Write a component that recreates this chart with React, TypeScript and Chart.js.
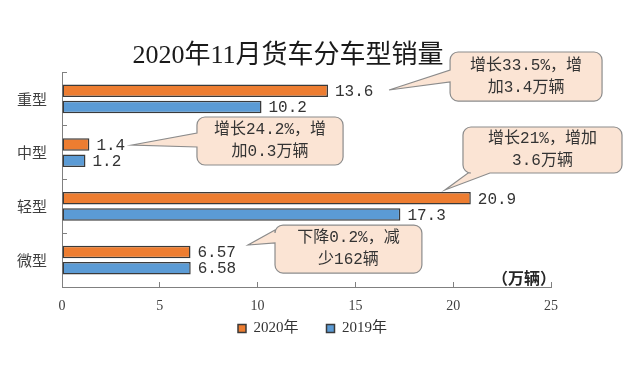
import React, { useEffect, useRef } from 'react';
import { Chart, registerables } from 'chart.js';

Chart.register(...registerables);

// ---- data ----
const CATEGORIES = ['重型', '中型', '轻型', '微型'];
const SALES_2020 = [13.6, 1.4, 20.9, 6.57];
const SALES_2019 = [10.2, 1.2, 17.3, 6.58];
const SERIES_NAMES = ['2020年', '2019年'];
const X_MIN = 0;
const X_MAX = 25;
const X_STEP = 5;
const TITLE = '2020年11月货车分车型销量';
const UNIT = '（万辆）';
const NOTE_TEXTS = [
  ['增长33.5%，增', '加3.4万辆'],
  ['增长24.2%，增', '加0.3万辆'],
  ['增长21%，增加', '3.6万辆'],
  ['下降0.2%，减', '少162辆'],
];

// ---- layout of callouts (x in axis units, p in category-index units) ----
const NOTE_LAYOUT = [
  { x0: 19.84, x1: 27.61, p0: -0.872, p1: 0.04, edge: 'left', b0: -0.537, b1: -0.314, tipX: 16.72, tipP: -0.165 },
  { x0: 6.9, x1: 14.37, p0: 0.337, p1: 1.23, edge: 'left', b0: 0.635, b1: 0.895, tipX: 3.58, tipP: 0.858 },
  { x0: 20.5, x1: 28.63, p0: 0.523, p1: 1.379, edge: 'bottom', b0: 20.76, b1: 21.88, tipX: 19.58, tipP: 1.695 },
  { x0: 10.89, x1: 18.4, p0: 2.347, p1: 3.24, edge: 'left', b0: 2.44, b1: 2.681, tipX: 9.51, tipP: 2.719 },
];

const ORANGE = '#ED7D31';
const BLUE = '#5B9BD5';
const BAR_BORDER = '#3a3a3a';
const AXIS_COLOR = '#808080';
const TEXT_COLOR = '#333333';
const SERIF = '"Liberation Serif", "Noto Sans CJK SC", serif';
const MONO = '"Liberation Mono", "Noto Sans CJK SC", monospace';
const CJK = '"Noto Sans CJK SC", sans-serif';

function drawCallout(ctx: CanvasRenderingContext2D, xs: any, ys: any, g: any, lines: string[]) {
  const L = xs.getPixelForValue(g.x0);
  const R = xs.getPixelForValue(g.x1);
  const T = ys.getPixelForValue(g.p0);
  const B = ys.getPixelForValue(g.p1);
  const tx = xs.getPixelForValue(g.tipX);
  const ty = ys.getPixelForValue(g.tipP);
  const r = 8;
  ctx.beginPath();
  ctx.moveTo(L + r, T);
  ctx.lineTo(R - r, T);
  ctx.arcTo(R, T, R, T + r, r);
  ctx.lineTo(R, B - r);
  ctx.arcTo(R, B, R - r, B, r);
  if (g.edge === 'bottom') {
    const b0 = xs.getPixelForValue(g.b0);
    const b1 = xs.getPixelForValue(g.b1);
    ctx.lineTo(b1, B);
    ctx.lineTo(tx, ty);
    ctx.lineTo(b0, B);
  }
  ctx.lineTo(L + r, B);
  ctx.arcTo(L, B, L, B - r, r);
  if (g.edge === 'left') {
    const b0 = ys.getPixelForValue(g.b0);
    const b1 = ys.getPixelForValue(g.b1);
    ctx.lineTo(L, b1);
    ctx.lineTo(tx, ty);
    ctx.lineTo(L, b0);
  }
  ctx.lineTo(L, T + r);
  ctx.arcTo(L, T, L + r, T, r);
  ctx.closePath();
  ctx.fillStyle = '#FBE4D4';
  ctx.fill();
  ctx.strokeStyle = '#8c8c8c';
  ctx.lineWidth = 1.2;
  ctx.stroke();

  ctx.fillStyle = TEXT_COLOR;
  ctx.font = '16px ' + MONO;
  ctx.textAlign = 'center';
  ctx.textBaseline = 'middle';
  const cx = (L + R) / 2;
  const cy = (T + B) / 2;
  const gap = 22;
  lines.forEach((ln, i) => {
    ctx.fillText(ln, cx, cy + (i - (lines.length - 1) / 2) * gap);
  });
}

const decorPlugin = {
  id: 'decor',
  afterLayout(chart: any) {
    const lg = chart.legend;
    if (lg) {
      lg.top -= 22;
      lg.bottom -= 22;
      lg.left += 6;
      lg.right += 6;
    }
  },
  afterDatasetsDraw(chart: any) {
    const { ctx, chartArea, scales } = chart;
    const xs = scales.x;
    const ys = scales.y;
    ctx.save();

    // value labels
    ctx.font = '16px ' + MONO;
    ctx.fillStyle = TEXT_COLOR;
    ctx.textAlign = 'left';
    ctx.textBaseline = 'middle';
    chart.data.datasets.forEach((ds: any, di: number) => {
      const meta = chart.getDatasetMeta(di);
      meta.data.forEach((el: any, i: number) => {
        ctx.fillText(String(ds.data[i]), el.x + 7, el.y + 1);
      });
    });

    // title
    ctx.font = '26px ' + SERIF;
    ctx.fillStyle = '#1a1a1a';
    ctx.textAlign = 'center';
    ctx.fillText(TITLE, 288, 56);

    // unit
    ctx.font = 'bold 16px ' + CJK;
    ctx.fillStyle = '#262626';
    ctx.textAlign = 'right';
    ctx.fillText(UNIT, chartArea.right + 5, chartArea.bottom - 9);

    // callouts
    NOTE_LAYOUT.forEach((g, i) => drawCallout(ctx, xs, ys, g, NOTE_TEXTS[i]));

    ctx.restore();
  },
};

export default function App() {
  const ref = useRef<HTMLCanvasElement | null>(null);

  useEffect(() => {
    if (!ref.current) return;
    const chart = new Chart(ref.current, {
      type: 'bar',
      data: {
        labels: CATEGORIES,
        datasets: [
          {
            label: SERIES_NAMES[0],
            data: SALES_2020,
            backgroundColor: ORANGE,
            borderColor: BAR_BORDER,
            borderWidth: 1.5,
            borderSkipped: false,
            categoryPercentage: 0.6,
            barPercentage: 0.78,
          },
          {
            label: SERIES_NAMES[1],
            data: SALES_2019,
            backgroundColor: BLUE,
            borderColor: BAR_BORDER,
            borderWidth: 1.5,
            borderSkipped: false,
            categoryPercentage: 0.6,
            barPercentage: 0.78,
          },
        ],
      },
      options: {
        indexAxis: 'y',
        responsive: false,
        animation: false,
        layout: { padding: { top: 72, right: 89, bottom: 0, left: 0 } },
        scales: {
          x: {
            type: 'linear',
            min: X_MIN,
            max: X_MAX,
            ticks: {
              stepSize: X_STEP,
              font: { family: SERIF, size: 14 },
              color: '#404040',
              padding: 16,
            },
            grid: { drawOnChartArea: false, tickLength: -5, color: AXIS_COLOR },
            border: { color: AXIS_COLOR, width: 1 },
            afterFit: (s: any) => {
              s.height = 28;
            },
          },
          y: {
            type: 'category',
            ticks: {
              font: { family: CJK, size: 15 },
              color: '#404040',
              padding: 20,
            },
            grid: { drawOnChartArea: false, tickLength: -5, color: AXIS_COLOR },
            border: { color: AXIS_COLOR, width: 1 },
            afterFit: (s: any) => {
              s.width = 62;
            },
          },
        },
        plugins: {
          legend: {
            position: 'bottom',
            fullSize: false,
            labels: {
              boxWidth: 8,
              boxHeight: 8,
              padding: 28,
              color: TEXT_COLOR,
              font: { family: SERIF, size: 15 },
            },
          },
          title: { display: false },
          tooltip: { enabled: false },
        },
      },
      plugins: [decorPlugin],
    } as any);
    return () => chart.destroy();
  }, []);

  return (
    <div style={{ position: 'absolute', left: 0, top: 0, width: 640, height: 368, background: '#fff' }}>
      <canvas ref={ref} width={640} height={368} style={{ display: 'block' }} />
    </div>
  );
}
